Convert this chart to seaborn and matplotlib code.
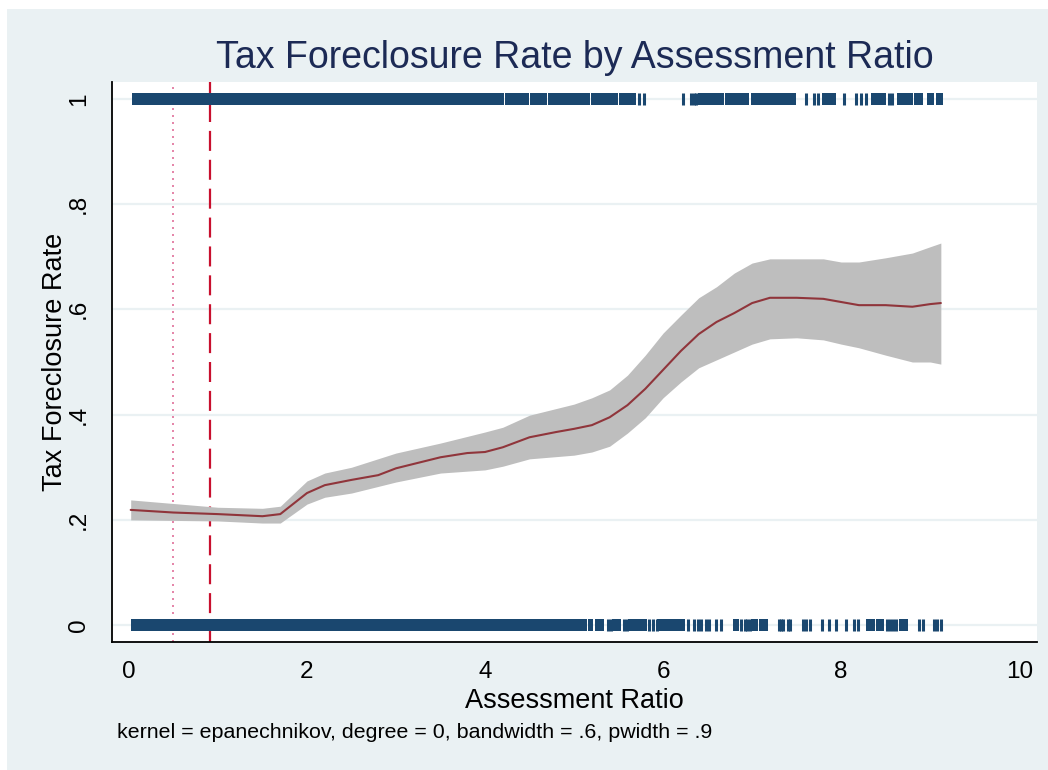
import matplotlib
matplotlib.use("Agg")
import matplotlib.pyplot as plt
from matplotlib.patches import Rectangle
import numpy as np
import pandas as pd
import seaborn as sns

# ---------------- data ----------------
# local polynomial smooth (estimate) and its confidence band
smooth_x = [0.02, 0.5, 1.0, 1.5, 1.7, 2.0, 2.2, 2.5, 2.8, 3.0, 3.5, 3.8, 4.0, 4.2,
            4.5, 4.8, 5.0, 5.2, 5.4, 5.6, 5.8, 6.0, 6.2, 6.4, 6.6, 6.8, 7.0, 7.2,
            7.5, 7.8, 8.0, 8.2, 8.5, 8.8, 9.0, 9.12]
smooth_y = [0.219, 0.214, 0.211, 0.207, 0.211, 0.251, 0.266, 0.276, 0.285, 0.298,
            0.319, 0.327, 0.329, 0.338, 0.357, 0.367, 0.373, 0.380, 0.395, 0.418,
            0.449, 0.485, 0.521, 0.553, 0.576, 0.593, 0.612, 0.622, 0.622, 0.620,
            0.614, 0.608, 0.608, 0.605, 0.610, 0.612]
ci_x = [0.02, 1.0, 1.5, 1.7, 2.0, 2.2, 2.5, 3.0, 3.5, 4.0, 4.2, 4.5, 5.0, 5.2, 5.4,
        5.6, 5.8, 6.0, 6.2, 6.4, 6.6, 6.8, 7.0, 7.2, 7.5, 7.8, 8.0, 8.2, 8.5, 8.8,
        9.0, 9.12]
ci_upper = [0.238, 0.224, 0.222, 0.226, 0.274, 0.289, 0.300, 0.327, 0.346, 0.367,
            0.376, 0.399, 0.420, 0.432, 0.447, 0.475, 0.513, 0.555, 0.589, 0.622,
            0.643, 0.669, 0.688, 0.696, 0.696, 0.696, 0.690, 0.690, 0.698, 0.707,
            0.719, 0.726]
ci_lower = [0.200, 0.198, 0.194, 0.194, 0.230, 0.243, 0.251, 0.272, 0.289, 0.295,
            0.302, 0.316, 0.323, 0.329, 0.340, 0.365, 0.394, 0.432, 0.462, 0.489,
            0.504, 0.519, 0.534, 0.544, 0.546, 0.542, 0.534, 0.527, 0.513, 0.500,
            0.500, 0.496]

# observations at y = 1 (foreclosed): densely packed runs and isolated values
top_runs_start = [0.03, 4.22, 4.50, 4.71, 5.19, 5.50, 6.39, 6.69, 6.99, 7.79, 8.34,
                  8.63, 8.82, 8.96, 9.07]
top_runs_end = [4.21, 4.49, 4.70, 5.18, 5.49, 5.70, 6.68, 6.97, 7.49, 7.94, 8.50,
                8.81, 8.92, 9.04, 9.14]
top_points = [5.73, 5.79, 6.22, 6.31, 6.35, 6.37, 7.61, 7.69, 7.74, 8.03, 8.17,
              8.22, 8.28, 8.54, 8.57]

# observations at y = 0 (not foreclosed)
bottom_runs_start = [0.02, 5.16, 5.24, 5.43, 5.61, 5.72, 5.93, 6.10, 6.78, 6.99,
                     7.08, 8.28, 8.39, 8.65]
bottom_runs_end = [5.15, 5.21, 5.34, 5.53, 5.72, 5.82, 6.11, 6.25, 6.85, 7.07,
                   7.18, 8.38, 8.48, 8.75]
bottom_points = [5.38, 5.42, 5.56, 5.60, 5.84, 5.89, 5.93, 6.28, 6.35, 6.39, 6.43,
                 6.48, 6.52, 6.60, 6.65, 6.88, 6.92, 6.94, 6.98, 7.30, 7.33, 7.35,
                 7.40, 7.43, 7.57, 7.61, 7.65, 7.79, 7.86, 7.94, 8.05, 8.15, 8.19,
                 8.52, 8.55, 8.58, 8.62, 8.88, 8.92, 9.04, 9.08, 9.12]

ref_dotted_x = 0.49
ref_dashed_x = 0.915

x_ticks = [0, 2, 4, 6, 8, 10]
x_ticklabels = ["0", "2", "4", "6", "8", "10"]
y_ticks = [0, 0.2, 0.4, 0.6, 0.8, 1.0]
y_ticklabels = ["0", ".2", ".4", ".6", ".8", "1"]

title = "Tax Foreclosure Rate by Assessment Ratio"
x_label = "Assessment Ratio"
y_label = "Tax Foreclosure Rate"
note = "kernel = epanechnikov, degree = 0, bandwidth = .6, pwidth = .9"

# ---------------- style ----------------
sns.set_theme(style="white")
plt.rcParams["font.family"] = ["Liberation Sans", "DejaVu Sans"]

BG = "#EAF1F3"
NAVY = "#1A476F"
MAROON = "#90353B"
CI_GREY = "#BEBEBE"
TITLE_C = "#1C2A55"

fig = plt.figure(figsize=(10.48, 7.70), dpi=100)
fig.patch.set_facecolor("white")
W, H = 1048, 770
fig.patches.append(Rectangle((7 / W, 0), 1 - 7 / W, 1 - 9 / H,
                             transform=fig.transFigure, facecolor=BG,
                             edgecolor="none", zorder=-10))

ax = fig.add_axes([112 / W, 1 - 642 / H, (1037 - 112) / W, (642 - 82) / H])
ax.set_facecolor("white")
ax.set_xlim(-0.19, 10.2)
ax.set_ylim(-0.032, 1.032)

# grid
for yt in y_ticks:
    ax.axhline(yt, color=BG, lw=1.6, zorder=0)

# reference lines
ax.axvline(ref_dotted_x, color="#E0709A", lw=1.2, ls=(0, (1.2, 3.0)), zorder=1)
ax.axvline(ref_dashed_x, color="#C8102E", lw=1.6, ls=(0, (9, 4)), zorder=1)

# CI band and smooth
ax.fill_between(ci_x, ci_lower, ci_upper, color=CI_GREY, lw=0, zorder=2)
df = pd.DataFrame({"x": smooth_x, "y": smooth_y})
sns.lineplot(data=df, x="x", y="y", color=MAROON, lw=1.5, ax=ax, zorder=3)

# rug of observations
mark_h = 12 * 72 / 100.0  # 12 px tall in points
ax.hlines([1.0] * len(top_runs_start), top_runs_start, top_runs_end,
          color=NAVY, lw=mark_h, zorder=4, capstyle="butt")
ax.hlines([0.0] * len(bottom_runs_start), bottom_runs_start, bottom_runs_end,
          color=NAVY, lw=mark_h, zorder=4, capstyle="butt")
ax.plot(top_points, [1.0] * len(top_points), ls="", marker="|", ms=mark_h,
        mew=2.2, color=NAVY, zorder=4)
ax.plot(bottom_points, [0.0] * len(bottom_points), ls="", marker="|", ms=mark_h,
        mew=2.2, color=NAVY, zorder=4)

# axes
for s in ["top", "right"]:
    ax.spines[s].set_visible(False)
for s in ["left", "bottom"]:
    ax.spines[s].set_color("black")
    ax.spines[s].set_linewidth(1.3)

ax.set_xticks(x_ticks)
ax.set_xticklabels(x_ticklabels)
ax.set_yticks(y_ticks)
ax.set_yticklabels(y_ticklabels, rotation=90, va="center")
ax.tick_params(axis="both", direction="out", length=8, width=1.3, color="black",
               labelsize=17.5, labelcolor="black", pad=4)
ax.tick_params(axis="x", pad=6)
ax.tick_params(axis="y", pad=8)

ax.set_xlabel(x_label, fontsize=19.5, color="black", labelpad=3)
ax.set_ylabel(y_label, fontsize=19.5, color="black", labelpad=0)
ax.set_title(title, fontsize=27, color=TITLE_C, pad=10)

fig.text(117 / W, 1 - 733 / H, note, fontsize=15.4, color="black", va="center",
         ha="left")

fig.savefig("out.png", dpi=100, facecolor=fig.get_facecolor())
